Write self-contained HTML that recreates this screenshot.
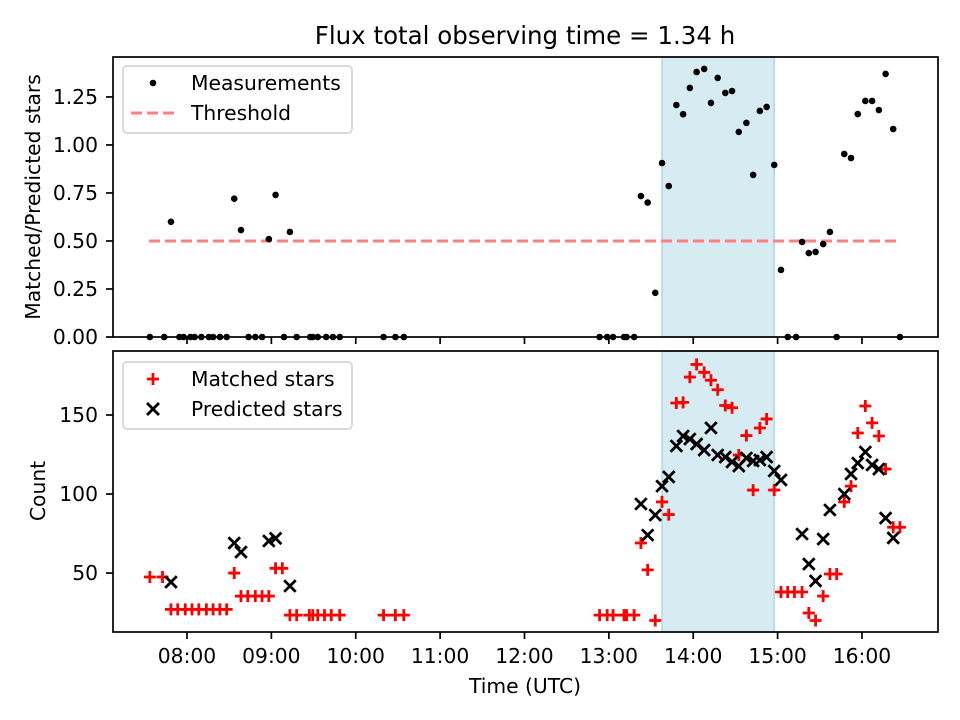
<!DOCTYPE html>
<html><head><meta charset="utf-8"><style>
body{margin:0;background:#fff}
svg{display:block;font-family:"DejaVu Sans","Liberation Sans",sans-serif}
</style></head><body>
<svg id="fig" width="960" height="720" viewBox="0 0 960 720">
<rect width="960" height="720" fill="#fff"/>
<text x="525" y="44" font-size="24.5" text-anchor="middle">Flux total observing time = 1.34 h</text>
<g id="topPanel"></g>
<g id="botPanel"></g>
<text x="0" y="0" transform="translate(40,197) rotate(-90)" font-size="20.3" text-anchor="middle">Matched/Predicted stars</text>
<text x="0" y="0" transform="translate(45,491) rotate(-90)" font-size="20.3" text-anchor="middle">Count</text>
<text x="525" y="693" font-size="20.3" text-anchor="middle">Time (UTC)</text>
</svg>
<script>
// ---- data (times in decimal hours UTC) ----
const ratioTimes=[7.56,7.73,7.81,7.91,7.96,8.04,8.09,8.17,8.26,8.31,8.39,8.47,8.56,8.64,8.73,8.81,8.89,8.97,9.05,9.15,9.22,9.30,9.46,9.49,9.55,9.65,9.73,9.81,10.33,10.47,10.57,12.89,12.98,13.05,13.18,13.21,13.30,13.38,13.46,13.55,13.63,13.71,13.80,13.88,13.96,14.04,14.13,14.21,14.29,14.38,14.46,14.54,14.63,14.71,14.79,14.87,14.96,15.04,15.12,15.22,15.29,15.37,15.45,15.54,15.62,15.70,15.79,15.87,15.95,16.04,16.12,16.20,16.28,16.37,16.45];
const ratioValues=[0,0,0.60,0,0,0,0,0,0,0,0,0,0.72,0.557,0,0,0,0.51,0.74,0,0.547,0,0,0,0,0,0,0,0,0,0,0,0,0,0,0,0,0.734,0.70,0.23,0.906,0.786,1.208,1.16,1.297,1.38,1.396,1.219,1.349,1.271,1.281,1.068,1.115,0.844,1.177,1.198,0.896,0.349,0,0,0.495,0.437,0.443,0.484,0.547,0,0.953,0.932,1.161,1.229,1.229,1.182,1.37,1.083,0];
const threshold=0.5;
const thresholdSpan=[7.55,16.45];
const shadeSpan=[13.63,14.96];
const matchedTimes=[7.56,7.71,7.81,7.89,7.98,8.06,8.14,8.23,8.31,8.39,8.47,8.56,8.64,8.72,8.81,8.89,8.97,9.05,9.13,9.22,9.30,9.45,9.49,9.55,9.63,9.71,9.81,10.33,10.47,10.57,12.89,12.98,13.05,13.18,13.21,13.30,13.38,13.46,13.55,13.63,13.71,13.80,13.88,13.96,14.04,14.13,14.21,14.29,14.38,14.46,14.54,14.63,14.71,14.79,14.87,14.96,15.04,15.12,15.20,15.29,15.37,15.45,15.54,15.62,15.70,15.79,15.87,15.95,16.04,16.12,16.20,16.28,16.37,16.45];
const matchedValues=[47.5,47.5,27,27,27,27,27,27,27,27,27,50,35.4,35.4,35.4,35.4,35.4,53,53,23.4,23.4,23.4,23.4,23.4,23.4,23.4,23.4,23.4,23.4,23.4,23.4,23.4,23.4,23.4,23.4,23.4,69,52,20,95,87,157.6,158,174,182,177,172,166,156,154.6,124.7,137,102.5,141.8,147.5,102.5,38,38,38,38,24.7,20,35.4,49.4,49.4,95,105,138.6,155.7,145,136.7,115.8,79,79];
const predictedTimes=[7.81,8.56,8.64,8.97,9.05,9.22,13.38,13.46,13.55,13.63,13.71,13.80,13.88,13.96,14.04,14.13,14.21,14.29,14.38,14.46,14.54,14.63,14.71,14.79,14.87,14.96,15.04,15.29,15.37,15.45,15.54,15.62,15.79,15.87,15.95,16.04,16.12,16.20,16.28,16.37];
const predictedValues=[44.3,69,63.3,70.3,72,41.8,93.7,74,86.7,105,110.8,130.4,136.7,134.8,131.6,127.8,141.8,124.7,123.4,120.3,117.7,122.8,120.9,121.5,123.4,114.6,108.9,74.7,55.7,45,71.5,89.9,100,112.7,119.6,126.6,118.4,115.8,84.8,72.2];
const xTicks=[8,9,10,11,12,13,14,15,16];
const xTickLabels=["08:00","09:00","10:00","11:00","12:00","13:00","14:00","15:00","16:00"];
const topTicks=[0,0.25,0.5,0.75,1.0,1.25];
const topTickLabels=["0.00","0.25","0.50","0.75","1.00","1.25"];
const botTicks=[50,100,150];
const botTickLabels=["50","100","150"];

const NS="http://www.w3.org/2000/svg";
const L=113,R=938,T1=57,B1=337,T2=351,B2=632;
const xMin=7.123,xMax=16.901;
function xs(t){return L+(t-xMin)/(xMax-xMin)*(R-L);}
function ys1(v){return B1-(v-0)/(1.458-0)*(B1-T1);}
function ys2(v){return B2-(v-12.7)/(190.5-12.7)*(B2-T2);}
function mk(tag,attrs,parent){const e=document.createElementNS(NS,tag);for(const k in attrs)e.setAttribute(k,attrs[k]);parent.appendChild(e);return e;}
const topG=document.getElementById('topPanel'),botG=document.getElementById('botPanel');

function frame(g,T,B,ys,ticks,labels,showX,pfx){
  const sh=mk('rect',{x:xs(shadeSpan[0]),y:T,width:xs(shadeSpan[1])-xs(shadeSpan[0]),height:B-T,fill:'#add8e6','fill-opacity':0.5,stroke:'#add8e6','stroke-width':1.5},g);
  
  
  xTicks.forEach((t,i)=>{
    const tk=mk('line',{x1:xs(t),x2:xs(t),y1:B,y2:B+7,stroke:'#000','stroke-width':1.7},g);
    
    
    if(showX){const tx=mk('text',{x:xs(t),y:663,'font-size':20.3,'text-anchor':'middle'},g);tx.textContent=xTickLabels[i];
      
      }
  });
  ticks.forEach((v,i)=>{
    const tk=mk('line',{x1:L-7,x2:L,y1:ys(v),y2:ys(v),stroke:'#000','stroke-width':1.7},g);
    
    
    const tx=mk('text',{x:L-15,y:ys(v)+7,'font-size':20.3,'text-anchor':'end'},g);tx.textContent=labels[i];
    
    
  });
}
frame(topG,T1,B1,ys1,topTicks,topTickLabels,false,'top');
frame(botG,T2,B2,ys2,botTicks,botTickLabels,true,'bottom');

const th=mk('line',{x1:xs(thresholdSpan[0]),x2:xs(thresholdSpan[1]),y1:ys1(threshold),y2:ys1(threshold),stroke:'#ff8080','stroke-width':3,'stroke-dasharray':'11,5'},topG);


ratioTimes.forEach((t,i)=>{
  const c=mk('circle',{cx:xs(t),cy:ys1(ratioValues[i]),r:3.3,fill:'#000'},topG);
  
  
});
matchedTimes.forEach((t,i)=>{
  const x=xs(t),y=ys2(matchedValues[i]),s=6;
  const p=mk('path',{d:`M${x-s},${y}H${x+s}M${x},${y-s}V${y+s}`,stroke:'#f00','stroke-width':2.8},botG);
  
  
});
predictedTimes.forEach((t,i)=>{
  const x=xs(t),y=ys2(predictedValues[i]),s=5.8;
  const p=mk('path',{d:`M${x-s},${y-s}L${x+s},${y+s}M${x-s},${y+s}L${x+s},${y-s}`,stroke:'#000','stroke-width':2.8},botG);
  
  
});
[[T1,B1,topG],[T2,B2,botG]].forEach(([T,B,g])=>{
  const r=mk('rect',{x:L,y:T,width:R-L,height:B-T,fill:'none',stroke:'#000','stroke-width':1.7},g);
  
  
});

function legend(g,y0,items,name){
  const lg=mk('g',{},g);
  
  
  mk('rect',{x:123,y:y0,width:229,height:67,rx:4,fill:'#fff','fill-opacity':0.8,stroke:'#d5d5d5','stroke-width':1.7},lg);
  items.forEach((it,i)=>{
    const cy=y0+17+i*30;
    if(it.k==='dot')mk('circle',{cx:153,cy:cy,r:3.3,fill:'#000'},lg);
    if(it.k==='dash')mk('line',{x1:131,x2:174,y1:cy,y2:cy,stroke:'#ff8080','stroke-width':3,'stroke-dasharray':'11,5'},lg);
    if(it.k==='plus')mk('path',{d:`M147,${cy}H159M153,${cy-6}V${cy+6}`,stroke:'#f00','stroke-width':2.8},lg);
    if(it.k==='x')mk('path',{d:`M147,${cy-6}L159,${cy+6}M147,${cy+6}L159,${cy-6}`,stroke:'#000','stroke-width':2.8},lg);
    const tx=mk('text',{x:191,y:cy+7,'font-size':20.3},lg);tx.textContent=it.t;
    
    
  });
}
legend(topG,66,[{k:'dot',t:'Measurements'},{k:'dash',t:'Threshold'}],'top-legend');
legend(botG,362,[{k:'plus',t:'Matched stars'},{k:'x',t:'Predicted stars'}],'bottom-legend');
</script>
</body></html>
